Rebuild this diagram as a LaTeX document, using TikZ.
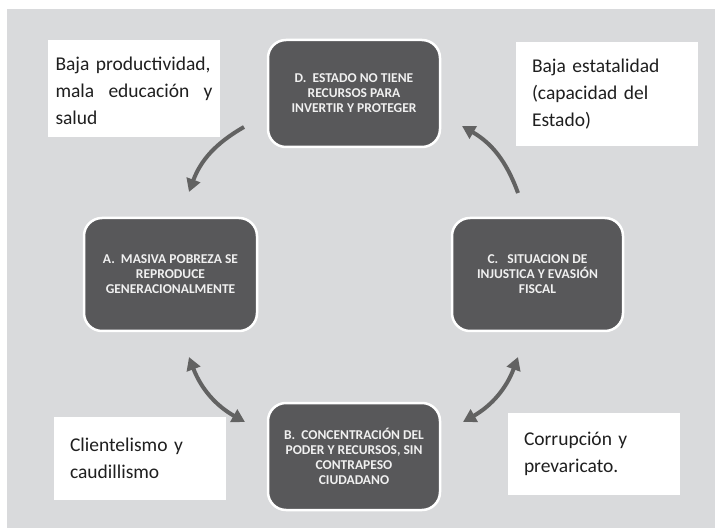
\documentclass[tikz,border=0pt]{standalone}
\usepackage{fontspec}
\setmainfont{Carlito}
\usetikzlibrary{positioning,arrows.meta}
\definecolor{bggray}{RGB}{217,218,220}
\definecolor{boxgray}{RGB}{88,88,90}
\definecolor{arrgray}{RGB}{98,98,98}
\tikzset{
  stage/.style={rectangle, rounded corners=18pt, draw=white, line width=2.5pt, fill=boxgray,
                text=gray!12, minimum width=172pt, minimum height=107pt, align=center,
                inner sep=4pt, font=\fontsize{13.5}{15}\selectfont\bfseries},
  note/.style={rectangle, fill=white, inner sep=0pt, align=left, text=black!88,
               font=\fontsize{19.5}{27}\selectfont},
  flow/.style={line width=4pt, draw=arrgray, -{Triangle[length=13pt,width=14pt]}, bend right=20},
  flowb/.style={flow, {Triangle[length=13pt,width=14pt]}-{Triangle[length=13pt,width=14pt]}},
}
\begin{document}
\begin{tikzpicture}[x=1pt,y=1pt]
  \useasboundingbox (0,0) rectangle (715,528);
  \fill[white] (0,0) rectangle (715,528);
  \fill[bggray] (7,0) rectangle (715,519);
  % cycle stages
  \node[stage] (D) at (354,434.5) {D.\ \ ESTADO NO TIENE\\ RECURSOS PARA\\ INVERTIR Y PROTEGER};
  \node[stage, minimum width=173pt, minimum height=113pt] (A) at (170.5,253.5)
    {A.\ \ MASIVA POBREZA SE\\ REPRODUCE\\ GENERACIONALMENTE};
  \node[stage, minimum width=171pt, minimum height=113pt] (C) at (537.5,253.5)
    {C.\ \ \ SITUACION DE\\ INJUSTICA Y EVASIÓN\\ FISCAL};
  \node[stage] (B) at (354,71.5)
    {B.\ \ CONCENTRACIÓN DEL\\ PODER Y RECURSOS, SIN\\ CONTRAPESO\\ CIUDADANO};
  % notes
  \node[note, minimum width=172pt, minimum height=97pt, text width=157pt, text height=18pt] (nA) at (134,439.5)
    {\mbox{Baja productividad,}\\ mala\hfill educación\hfill y\\ salud};
  \node[note, minimum width=182pt, minimum height=104pt, text width=150pt] (nD) at (607,434)
    {Baja estatalidad\\ (capacidad del\\ Estado)};
  \node[note, minimum width=172pt, minimum height=83pt, text width=140pt] (nB) at (140,69.5)
    {Clientelismo y\\ caudillismo};
  \node[note, minimum width=172pt, minimum height=82pt, text width=140pt] (nC) at (594,74)
    {Corrupción y\\ prevaricato.};
  % arrows
  \coordinate (fromD) at (244,401);
  \coordinate (toA) at (189,336);
  \coordinate (fromC) at (518,335);
  \coordinate (toD) at (462,402);
  \coordinate (ab1) at (189,171);
  \coordinate (ab2) at (245,106);
  \coordinate (bc1) at (463,106);
  \coordinate (bc2) at (518,171);
  \draw[flow] (fromD) to (toA);
  \draw[flow] (fromC) to (toD);
  \draw[flowb] (ab1) to (ab2);
  \draw[flowb] (bc1) to (bc2);
\end{tikzpicture}
\end{document}
